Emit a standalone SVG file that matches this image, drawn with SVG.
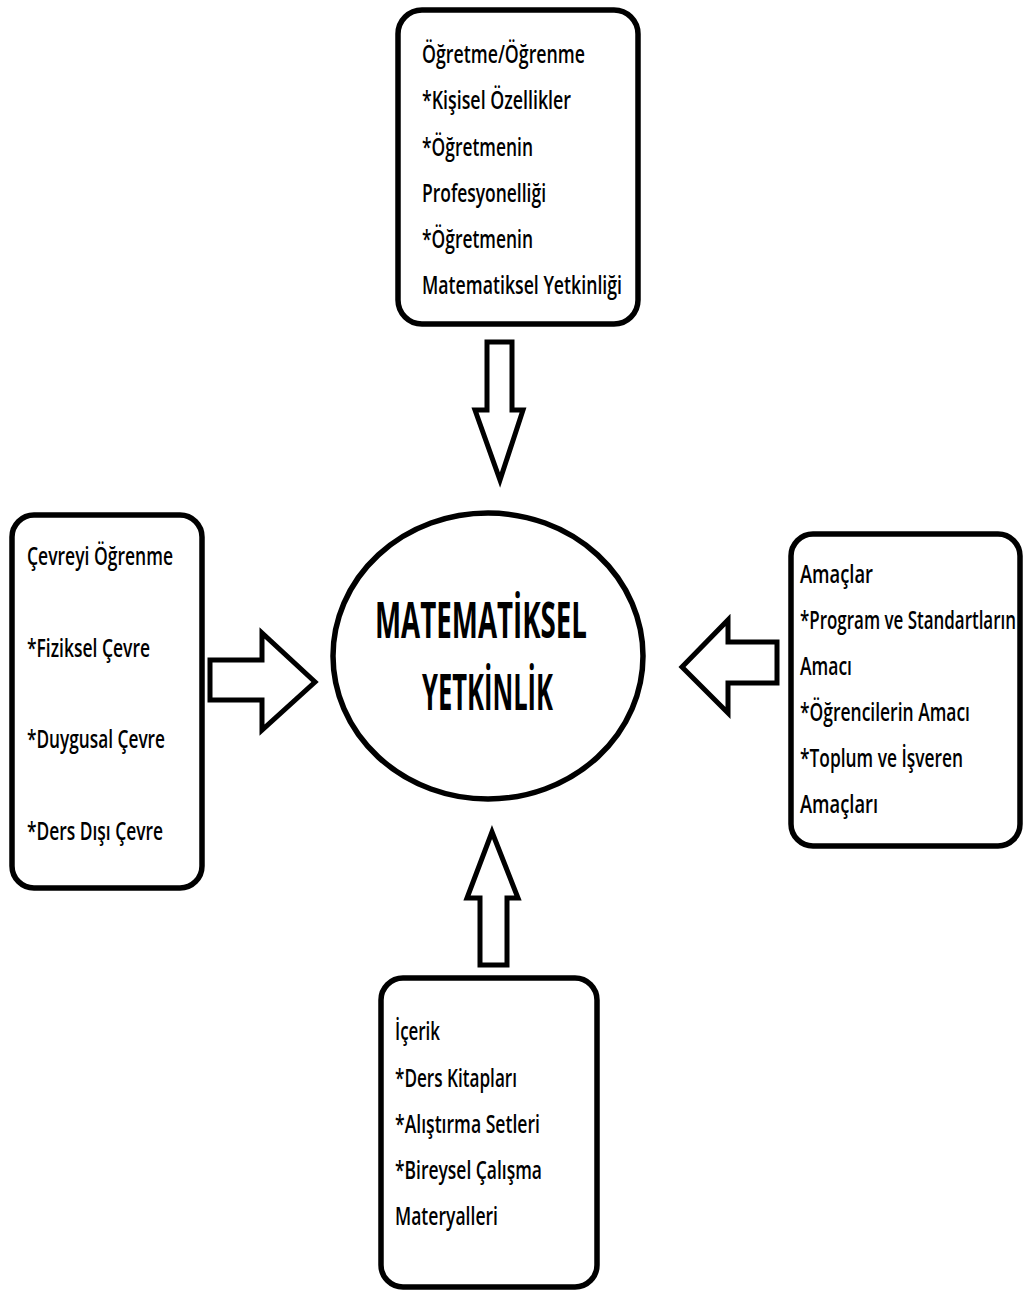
<svg xmlns="http://www.w3.org/2000/svg" width="1023" height="1291" viewBox="0 0 1023 1291">
<style>
.box{fill:#fff;stroke:#000;stroke-width:5.5}
.arr{fill:#fff;stroke:#000;stroke-width:5;stroke-linejoin:miter}
.t{font-family:"Open Sans","Noto Sans","Liberation Sans",sans-serif;font-size:25px;font-weight:600;fill:#000}
.c{font-family:"Open Sans","Noto Sans","Liberation Sans",sans-serif;font-size:50px;font-weight:bold;fill:#000}
</style>
<rect width="1023" height="1291" fill="#fff"/>
<g id="connectors">
<polygon class="arr" points="487,342 512,342 512,410 523,410 500,480 475,410 487,410"/>
<polygon class="arr" points="210,660 262,660 262,633 315,682 262,730 262,700 210,700"/>
<polygon class="arr" points="777,642 728,642 728,620 682,667 728,713 728,683 777,683"/>
<polygon class="arr" points="480,965 507,965 507,898 518,898 492,832 467,898 480,898"/>
</g>
<g id="node-center">
<ellipse class="box" cx="488" cy="656" rx="155" ry="143"/>
<text class="c" x="375" y="638" textLength="212" lengthAdjust="spacingAndGlyphs">MATEMATİKSEL</text>
<text class="c" x="422" y="710" textLength="131" lengthAdjust="spacingAndGlyphs">YETKİNLİK</text>
</g>
<g id="node-top">
<rect class="box" x="398" y="10" width="240" height="314" rx="24"/>
<text class="t" x="422" y="63" textLength="163" lengthAdjust="spacingAndGlyphs">Öğretme/Öğrenme</text>
<text class="t" x="422" y="109" textLength="149" lengthAdjust="spacingAndGlyphs">*Kişisel Özellikler</text>
<text class="t" x="422" y="156" textLength="111" lengthAdjust="spacingAndGlyphs">*Öğretmenin</text>
<text class="t" x="422" y="202" textLength="124" lengthAdjust="spacingAndGlyphs">Profesyonelliği</text>
<text class="t" x="422" y="248" textLength="111" lengthAdjust="spacingAndGlyphs">*Öğretmenin</text>
<text class="t" x="422" y="294" textLength="200" lengthAdjust="spacingAndGlyphs">Matematiksel Yetkinliği</text>
</g>
<g id="node-left">
<rect class="box" x="12" y="515" width="190" height="373" rx="22"/>
<text class="t" x="27" y="565" textLength="146" lengthAdjust="spacingAndGlyphs">Çevreyi Öğrenme</text>
<text class="t" x="27" y="657" textLength="123" lengthAdjust="spacingAndGlyphs">*Fiziksel Çevre</text>
<text class="t" x="27" y="748" textLength="138" lengthAdjust="spacingAndGlyphs">*Duygusal Çevre</text>
<text class="t" x="27" y="840" textLength="136" lengthAdjust="spacingAndGlyphs">*Ders Dışı Çevre</text>
</g>
<g id="node-right">
<rect class="box" x="791" y="534" width="229" height="312" rx="22"/>
<text class="t" x="800" y="583" textLength="73" lengthAdjust="spacingAndGlyphs">Amaçlar</text>
<text class="t" x="800" y="629" textLength="216" lengthAdjust="spacingAndGlyphs">*Program ve Standartların</text>
<text class="t" x="800" y="675" textLength="52" lengthAdjust="spacingAndGlyphs">Amacı</text>
<text class="t" x="800" y="721" textLength="170" lengthAdjust="spacingAndGlyphs">*Öğrencilerin Amacı</text>
<text class="t" x="800" y="767" textLength="163" lengthAdjust="spacingAndGlyphs">*Toplum ve İşveren</text>
<text class="t" x="800" y="813" textLength="78" lengthAdjust="spacingAndGlyphs">Amaçları</text>
</g>
<g id="node-bottom">
<rect class="box" x="381" y="978" width="216" height="309" rx="22"/>
<text class="t" x="395" y="1040" textLength="45" lengthAdjust="spacingAndGlyphs">İçerik</text>
<text class="t" x="395" y="1087" textLength="122" lengthAdjust="spacingAndGlyphs">*Ders Kitapları</text>
<text class="t" x="395" y="1133" textLength="145" lengthAdjust="spacingAndGlyphs">*Alıştırma Setleri</text>
<text class="t" x="395" y="1179" textLength="147" lengthAdjust="spacingAndGlyphs">*Bireysel Çalışma</text>
<text class="t" x="395" y="1225" textLength="103" lengthAdjust="spacingAndGlyphs">Materyalleri</text>
</g>
</svg>
